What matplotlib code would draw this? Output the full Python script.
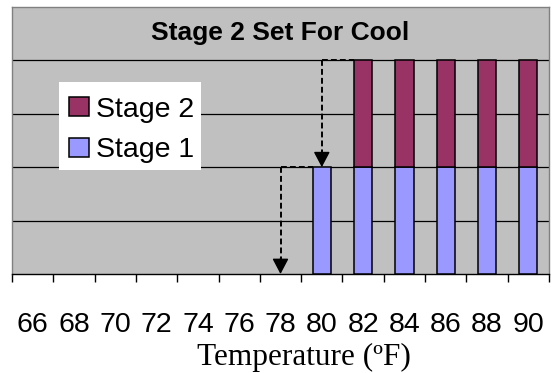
"""
Gráfico de etapas de enfriamiento: etapa 1 y etapa 2 apiladas por temperatura.
"""

import matplotlib
matplotlib.use("Agg")
import matplotlib.pyplot as plt
from matplotlib.patches import Rectangle
import numpy as np

temperaturas = [66, 68, 70, 72, 74, 76, 78, 80, 82, 84, 86, 88, 90]
etapa_1 = [0, 0, 0, 0, 0, 0, 0, 2, 2, 2, 2, 2, 2]
etapa_2 = [0, 0, 0, 0, 0, 0, 0, 0, 2, 2, 2, 2, 2]

titulo = "Stage 2 Set For Cool"
etiqueta_x = "Temperature (ºF)"

_COLOR_E1 = "#9999FF"
_COLOR_E2 = "#993366"
_FONDO = "#C0C0C0"
_SANS = "Liberation Sans"
_SERIF = "Liberation Serif"

x = np.arange(len(temperaturas))
e1 = np.array(etapa_1, dtype=float)
e2 = np.array(etapa_2, dtype=float)

fig = plt.figure(figsize=(5.55, 3.73), dpi=100)
ax = fig.add_axes([12 / 555, 99 / 373, 537 / 555, 267 / 373])
ax.set_facecolor(_FONDO)
ax.set_xlim(-0.5, len(x) - 0.5)
ax.set_ylim(0, 5)
ax.set_axisbelow(True)

# líneas horizontales de la grilla
ax.set_yticks([1, 2, 3, 4])
ax.yaxis.grid(True, color="black", linewidth=0.9)
ax.tick_params(axis="y", length=0, labelleft=False)

ancho = 0.44
m1 = e1 > 0
m2 = e2 > 0
b1 = ax.bar(x[m1], e1[m1], width=ancho, color=_COLOR_E1,
            edgecolor="black", linewidth=1.1, zorder=3, label="Stage 1")
b2 = ax.bar(x[m2], e2[m2], width=ancho, bottom=e1[m2], color=_COLOR_E2,
            edgecolor="black", linewidth=1.1, zorder=3, label="Stage 2")

# flechas punteadas: cada etapa entra en la temperatura siguiente
guion = (0, (3, 1.6))


def flecha(idx_origen, idx_destino, y_alto, y_bajo):
    x0 = x[idx_origen]
    x1 = x[idx_destino] - ancho / 2
    ax.plot([x0, x1], [y_alto, y_alto], color="black", lw=1.4,
            linestyle=guion, zorder=4)
    ax.plot([x0, x0], [y_alto, y_bajo + 0.2], color="black", lw=1.4,
            linestyle=guion, zorder=4)
    ax.annotate("", xy=(x0, y_bajo), xytext=(x0, y_bajo + 0.3),
                arrowprops=dict(arrowstyle="-|>,head_length=0.95,head_width=0.5",
                                color="black", lw=1.0, shrinkA=0, shrinkB=0),
                zorder=5)


i1 = int(np.argmax(m1))
i2 = int(np.argmax(m2))
flecha(i1 - 1, i1, e1[i1], 0)
flecha(i2 - 1, i2, e1[i2] + e2[i2], e1[i2 - 1])

# eje x: marcas entre categorías, etiquetas centradas
ax.set_xticks(x)
ax.set_xticklabels([str(t) for t in temperaturas], fontsize=20.5,
                   fontfamily=_SANS)
ax.set_xticks(np.arange(-0.5, len(x)), minor=True)
ax.tick_params(axis="x", which="major", length=0, pad=27.5)
ax.tick_params(axis="x", which="minor", length=5.5, width=1.0,
               color="black", direction="out")

ax.set_xlabel(etiqueta_x, fontsize=22.5, fontfamily=_SERIF)
ax.xaxis.set_label_coords((304 - 12) / 537, (274 - 365) / 267)
ax.xaxis.label.set_va("baseline")

for lado in ("left", "top", "right"):
    ax.spines[lado].set_color("#808080")
    ax.spines[lado].set_linewidth(1.0)
ax.spines["bottom"].set_color("black")
ax.spines["bottom"].set_linewidth(1.0)

ax.text(0.5 * (len(x) - 1), 4.39, titulo, ha="center", va="baseline",
        fontsize=19, fontweight="bold", fontfamily=_SANS)

# caja blanca de la leyenda, sin borde
ax.add_patch(Rectangle((0.0881, 0.3895), 0.2639, 0.3307,
                       transform=ax.transAxes, facecolor="white",
                       edgecolor="none", zorder=6))
leg = ax.legend(handles=[b2, b1], loc="upper left",
                bbox_to_anchor=(0.1067, 0.6644), borderaxespad=0,
                prop={"family": _SANS, "size": 20.5}, frameon=False,
                handlelength=0.68, handleheight=0.68, handletextpad=0.25,
                borderpad=0, labelspacing=0.52)
leg.set_zorder(7)
for h in leg.legend_handles:
    h.set_edgecolor("black")
    h.set_linewidth(1.1)

fig.savefig("out.png", dpi=100)
